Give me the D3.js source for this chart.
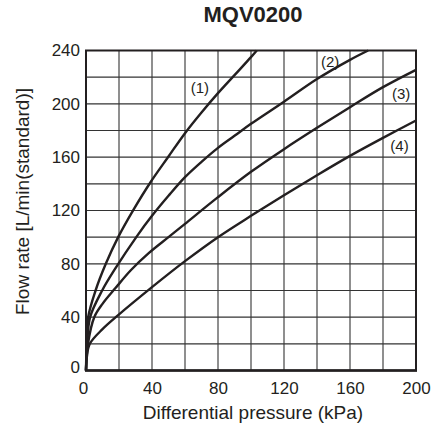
<!DOCTYPE html>
<html>
<head>
<meta charset="utf-8">
<script src="https://cdn.jsdelivr.net/npm/d3@7"></script>
<style>
  html, body { margin: 0; padding: 0; background: #fff; }
  svg { display: block; font-family: "Liberation Sans", Arial, sans-serif; }
</style>
</head>
<body>
<svg id="chart" width="444" height="430"></svg>
<script>
// ---- data ----
const chartTitle = "MQV0200";
const xLabel = "Differential pressure (kPa)";
const yLabel = "Flow rate [L/min(standard)]";
const xTickValues = [0, 40, 80, 120, 160, 200];
const yTickValues = [0, 40, 80, 120, 160, 200, 240];
const xGridValues = [20, 40, 60, 80, 100, 120, 140, 160, 180];
const yGridValues = [20, 40, 60, 80, 100, 120, 140, 160, 180, 200, 220];

const seriesNames = ["(1)", "(2)", "(3)", "(4)"];
const curve1P = [0, 0.4, 1.3, 5.8, 12, 19.5, 29, 39, 50, 60, 70, 80, 90, 100, 103.5];
const curve1Q = [0, 20, 40, 60, 80, 100, 121, 141, 160.5, 178, 193.5, 208, 221.5, 235, 240];
const curve2P = [0, 0.7, 2.5, 9.8, 17.5, 31, 40, 50, 60, 70, 80, 90, 100, 120, 140, 160, 171];
const curve2Q = [0, 20, 40, 60, 76, 101, 116, 131, 145, 156.5, 167, 176, 185, 201.6, 218.6, 233, 240];
const curve3P = [0, 1.2, 5, 10, 18, 27, 38, 50, 60, 80, 100, 120, 140, 160, 180, 200];
const curve3Q = [0, 20, 40, 50, 62, 75, 88, 100, 110, 130, 149, 166, 182, 197.5, 212.5, 225.5];
const curve4P = [0, 0.5, 2.3, 10, 19.5, 40, 60, 80, 100, 120, 140, 160, 180, 200];
const curve4Q = [0, 10, 20, 31, 41.5, 62.5, 82, 100, 116, 131.5, 146.5, 161, 174.5, 187.5];
// label anchor positions in data units
const labelP = [69, 148, 191, 190];
const labelQ = [212, 232, 208, 169];

// ---- layout ----
const svg = d3.select("#chart");
const margin = { left: 86, right: 28, top: 50.5, bottom: 59.5 };
const W = 444, H = 430;
const x = d3.scaleLinear().domain([0, 200]).range([margin.left, W - margin.right]);
const y = d3.scaleLinear().domain([0, 240]).range([H - margin.bottom, margin.top]);
const ink = "#231f20";

// grid
const g = svg.append("g");
g.selectAll("line.vg").data(xGridValues).enter().append("line")
  .attr("x1", d => x(d)).attr("x2", d => x(d))
  .attr("y1", y(0)).attr("y2", y(240))
  .attr("stroke", "#333").attr("stroke-width", 1.1);
g.selectAll("line.hg").data(yGridValues).enter().append("line")
  .attr("x1", x(0)).attr("x2", x(200))
  .attr("y1", d => y(d)).attr("y2", d => y(d))
  .attr("stroke", "#333").attr("stroke-width", 1.1);

// curves
const series = [
  [curve1P, curve1Q], [curve2P, curve2Q], [curve3P, curve3Q], [curve4P, curve4Q]
].map(([P, Q]) => P.map((p, i) => [p, Q[i]]));
const line = d3.line().x(d => x(d[0])).y(d => y(d[1])).curve(d3.curveCatmullRom.alpha(0.5));
svg.append("g").selectAll("path").data(series).enter().append("path")
  .attr("d", line).attr("fill", "none")
  .attr("stroke", ink).attr("stroke-width", 2.4).attr("stroke-linejoin", "round");

// frame
svg.append("rect")
  .attr("x", x(0)).attr("y", y(240))
  .attr("width", x(200) - x(0)).attr("height", y(0) - y(240))
  .attr("fill", "none").attr("stroke", ink).attr("stroke-width", 2);
svg.append("line").attr("x1", x(0) - 1).attr("x2", x(200) + 1)
  .attr("y1", y(0)).attr("y2", y(0)).attr("stroke", ink).attr("stroke-width", 2.6);

// axes
const xAxis = d3.axisBottom(x).tickValues(xTickValues).tickSize(0).tickPadding(10);
const xg = svg.append("g").attr("transform", `translate(0,${y(0)})`).call(xAxis);
const yAxis = d3.axisLeft(y).tickValues(yTickValues).tickSize(0).tickPadding(6);
const yg = svg.append("g").attr("transform", `translate(${x(0)},0)`).call(yAxis);
[xg, yg].forEach(a => {
  a.select(".domain").remove();
  a.selectAll("text").attr("font-size", 17).attr("fill", ink)
    .attr("font-family", "'Liberation Sans', Arial, sans-serif");
});
xg.selectAll("text").attr("dy", "0.71em").attr("y", 11);
xg.selectAll(".tick").filter(d => d === 0).select("text").attr("dx", -3);
yg.selectAll(".tick").filter(d => d === 0).select("text").attr("dy", "0.1em");

// series labels
svg.append("g").selectAll("text").data(seriesNames).enter().append("text")
  .attr("x", (d, i) => x(labelP[i])).attr("y", (d, i) => y(labelQ[i]))
  .attr("text-anchor", "middle").attr("dominant-baseline", "central")
  .attr("font-size", 15).attr("fill", ink).text(d => d);

// titles
svg.append("text").attr("x", 253).attr("y", 22).attr("text-anchor", "middle")
  .attr("font-size", 22).attr("font-weight", "bold").attr("fill", ink).text(chartTitle);
svg.append("text").attr("x", (x(0) + x(200)) / 2 + 2).attr("y", 419)
  .attr("text-anchor", "middle").attr("font-size", 19).attr("fill", ink).text(xLabel);
svg.append("text")
  .attr("transform", `translate(29,${(y(0) + y(240)) / 2 - 9}) rotate(-90)`)
  .attr("text-anchor", "middle").attr("font-size", 19).attr("fill", ink).text(yLabel);
</script>
</body>
</html>
